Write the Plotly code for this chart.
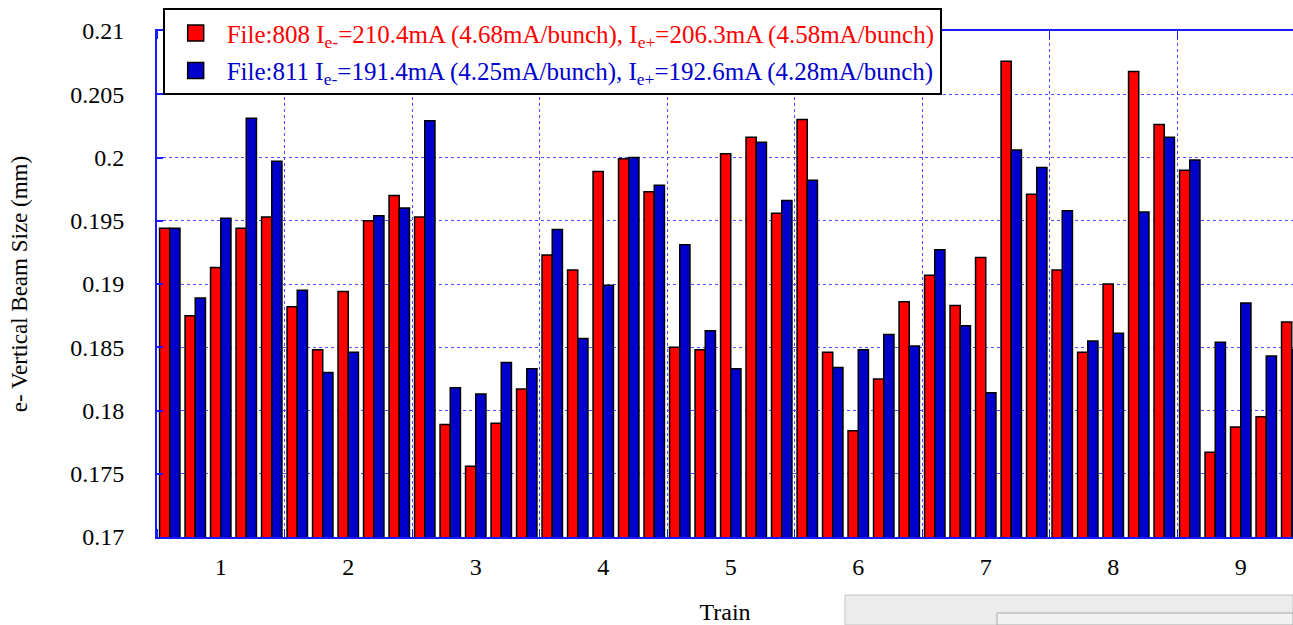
import plotly.graph_objects as go

# ---- data ----
trains = ["1", "2", "3", "4", "5", "6", "7", "8", "9"]
bunches_per_train = 5

file808 = [0.1944, 0.1875, 0.1913, 0.1944, 0.1953,
           0.1882, 0.1848, 0.1894, 0.1950, 0.1970,
           0.1953, 0.1789, 0.1756, 0.1790, 0.1817,
           0.1923, 0.1911, 0.1989, 0.1999, 0.1973,
           0.1850, 0.1848, 0.2003, 0.2016, 0.1956,
           0.2030, 0.1846, 0.1784, 0.1825, 0.1886,
           0.1907, 0.1883, 0.1921, 0.2076, 0.1971,
           0.1911, 0.1846, 0.1900, 0.2068, 0.2026,
           0.1990, 0.1767, 0.1787, 0.1795, 0.1870]
file811 = [0.1944, 0.1889, 0.1952, 0.2031, 0.1997,
           0.1895, 0.1830, 0.1846, 0.1954, 0.1960,
           0.2029, 0.1818, 0.1813, 0.1838, 0.1833,
           0.1943, 0.1857, 0.1899, 0.2000, 0.1978,
           0.1931, 0.1863, 0.1833, 0.2012, 0.1966,
           0.1982, 0.1834, 0.1848, 0.1860, 0.1851,
           0.1927, 0.1867, 0.1814, 0.2006, 0.1992,
           0.1958, 0.1855, 0.1861, 0.1957, 0.2016,
           0.1998, 0.1854, 0.1885, 0.1843, 0.1848]

name808 = ('<span style="color:#ff0000">File:808 I<sub>e-</sub>=210.4mA (4.68mA/bunch), '
           'I<sub>e+</sub>=206.3mA (4.58mA/bunch)</span>')
name811 = ('<span style="color:#0000cc">File:811 I<sub>e-</sub>=191.4mA (4.25mA/bunch), '
           'I<sub>e+</sub>=192.6mA (4.28mA/bunch)</span>')

RED = "#ff0000"
BLUE = "#0000cc"

n = len(file808)
xpos = [i + 0.5 for i in range(n)]
train_centers = [k * bunches_per_train + bunches_per_train / 2 for k in range(len(trains))]

FONT = "Liberation Serif, Times New Roman, serif"
AX = "#1a1aff"
GRID = "#4d4dff"

fig = go.Figure()
fig.add_trace(go.Bar(x=xpos, y=file808, name=name808, showlegend=False, legendgroup="808",
                     marker=dict(color=RED, line=dict(color="#000000", width=1.5))))
fig.add_trace(go.Bar(x=xpos, y=file811, name=name811, showlegend=False, legendgroup="811",
                     marker=dict(color=BLUE, line=dict(color="#000000", width=1.5))))
# legend entries (larger square swatches, as in the reference)
fig.add_trace(go.Scatter(x=[None], y=[None], mode="markers", name=name808, legendgroup="808",
                         marker=dict(symbol="square", size=20, color=RED,
                                     line=dict(color="#000000", width=1.5))))
fig.add_trace(go.Scatter(x=[None], y=[None], mode="markers", name=name811, legendgroup="811",
                         marker=dict(symbol="square", size=20, color=BLUE,
                                     line=dict(color="#000000", width=1.5))))

W, H = 1293, 625
ml, mr, mt, mb = 157, 0, 31, 88
plot_w = W - ml - mr
plot_h = H - mt - mb
slot_px = 25.5

fig.update_layout(
    width=W, height=H,
    margin=dict(l=ml, r=mr, t=mt, b=mb, autoexpand=False),
    paper_bgcolor="white", plot_bgcolor="white",
    barmode="group", bargap=0.2, bargroupgap=0.0,
    font=dict(family=FONT, color="black", size=24),
    legend=dict(x=0.005, y=1.045, xanchor="left", yanchor="top",
                bgcolor="white", bordercolor="black", borderwidth=2,
                font=dict(family=FONT, size=25), tracegroupgap=2,
                itemwidth=52, itemsizing="trace"),
    showlegend=True,
)

fig.update_xaxes(
    range=[0, plot_w / slot_px],
    tickmode="array", tickvals=train_centers, ticktext=trains,
    ticks="", showgrid=False, zeroline=False,
    tickfont=dict(family=FONT, size=24, color="black"),
    ticklabelstandoff=7,
    showline=True, linecolor=AX, linewidth=2, mirror="allticks",
    minor=dict(tick0=0, dtick=bunches_per_train, showgrid=True, gridcolor=GRID,
               griddash="dot", gridwidth=1, ticks="inside", ticklen=8, tickcolor=AX),
    title=dict(text="Train", font=dict(family=FONT, size=24, color="black"), standoff=24),
)

fig.update_yaxes(
    range=[0.17, 0.21], dtick=0.005, tick0=0.17,
    showgrid=True, gridcolor=GRID, griddash="dot", gridwidth=1,
    zeroline=False,
    ticks="inside", ticklen=6, tickcolor=AX, tickwidth=1.5,
    ticklabelstandoff=26,
    tickfont=dict(family=FONT, size=24, color="black"),
    showline=True, linecolor=AX, linewidth=2, mirror=False,
    title=dict(text="e- Vertical Beam Size (mm)",
               font=dict(family=FONT, size=23, color="black"), standoff=36),
)

# window-chrome panel visible at the bottom right of the reference screenshot
fig.add_shape(type="rect", xref="paper", yref="paper",
              x0=(845 - ml) / plot_w, x1=1.0, y0=-(625 - 537) / plot_h, y1=-(595 - 537) / plot_h,
              fillcolor="#ececec", line=dict(color="#c4c4c4", width=1), layer="above")
fig.add_shape(type="rect", xref="paper", yref="paper",
              x0=(997 - ml) / plot_w, x1=1.0, y0=-(625 - 537) / plot_h, y1=-(613 - 537) / plot_h,
              fillcolor="#f2f2f2", line=dict(color="#a8a8a8", width=1), layer="above")

fig.write_html("out.html",
               config={"displayModeBar": False},
               post_script="document.body.style.margin='0';document.body.style.overflow='hidden';")
